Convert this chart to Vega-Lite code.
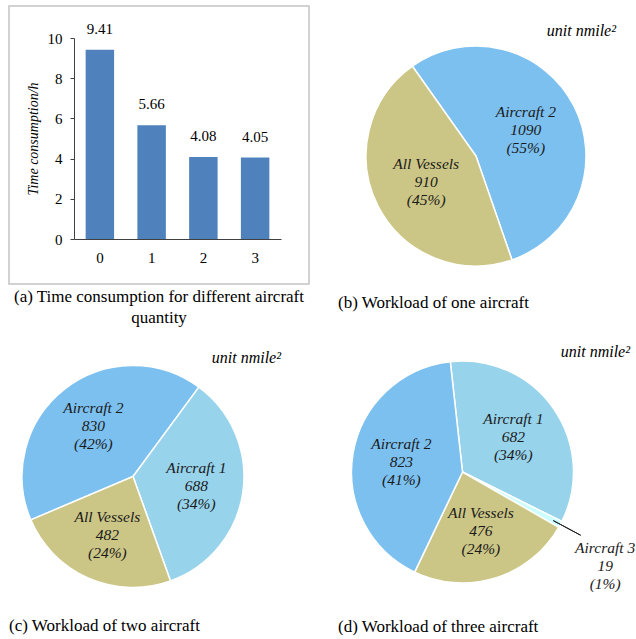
{
  "$schema": "https://vega.github.io/schema/vega-lite/v6.json",
  "padding": {"left": 8, "top": 5, "right": 0, "bottom": 0},
  "background": "white",
  "config": {
    "view": {"stroke": "#c4c4c4", "strokeWidth": 1.5},
    "font": "Liberation Serif",
    "title": {"font": "Liberation Serif", "fontWeight": "normal", "color": "black"}
  },
  "resolve": {"scale": {"theta": "independent"}},
  "spacing": 6,
  "vconcat": [
    {
      "spacing": 28,
      "resolve": {"scale": {"theta": "independent"}},
      "hconcat": [
        {
          "width": 300,
          "height": 278,
          "title": {"text": ["(a) Time consumption for different aircraft", "quantity"], "orient": "bottom", "offset": 5, "fontSize": 17, "lineHeight": 21, "fontWeight": "normal", "color": "black"},
          "data": {"values": [
            {"aircraft": 0, "hours": 9.41},
            {"aircraft": 1, "hours": 5.66},
            {"aircraft": 2, "hours": 4.08},
            {"aircraft": 3, "hours": 4.05}
          ]},
          "encoding": {
            "x": {"field": "aircraft", "type": "ordinal",
              "scale": {"range": [65, 272], "paddingInner": 0.45, "paddingOuter": 0.225},
              "axis": {"orient": "bottom", "offset": -45, "title": null, "labelAngle": 0, "ticks": false, "labelPadding": 11, "labelFont": "Liberation Serif", "labelFontSize": 15, "labelColor": "black", "domainColor": "#404040", "grid": false}},
            "y": {"field": "hours", "type": "quantitative",
              "scale": {"domain": [0, 10], "range": [233, 32], "nice": false},
              "axis": {"offset": -65, "values": [0, 2, 4, 6, 8, 10], "grid": false, "tickSize": 4, "tickColor": "#404040", "domainColor": "#404040", "labelPadding": 8, "labelFont": "Liberation Serif", "labelFontSize": 15, "labelColor": "black", "title": "Time consumption/h", "titleFont": "Liberation Serif", "titleFontStyle": "italic", "titleFontWeight": "normal", "titleFontSize": 14, "titleColor": "black", "titlePadding": 7}}
          },
          "layer": [
            {"mark": {"type": "bar", "color": "#4F81BD"}},
            {"mark": {"type": "text", "baseline": "middle", "dy": -21, "font": "Liberation Serif", "fontSize": 15, "color": "black"},
             "encoding": {"text": {"field": "hours", "type": "quantitative", "format": ".2f"}}}
          ]
        },
        {
          "title": {"text": "(b) Workload of one aircraft", "orient": "bottom", "offset": 11, "fontSize": 17, "fontWeight": "normal", "color": "black"},
          "vconcat": [
            {
              "width": 300,
              "height": 278,
              "title": {"text": "unit nmile²", "orient": "top", "anchor": "end", "offset": -33, "dx": -22, "fontSize": 16, "fontStyle": "italic", "fontWeight": "normal", "color": "black"},
              "data": {"values": [
                {"name": "Aircraft 2", "value": 1090, "pct": 55, "order": 1},
                {"name": "All Vessels", "value": 910, "pct": 45, "order": 2}
              ]},
              "transform": [
                {"stack": "value", "groupby": [], "offset": "normalize", "sort": [{"field": "order"}], "as": ["v0", "v1"]},
                {"calculate": "(datum.v0 + datum.v1) / 2", "as": "mid"},
                {"calculate": "datum.name + '\\n' + datum.value + '\\n(' + datum.pct + '%)'", "as": "label"}
              ],
              "layer": [
                {"mark": {"type": "arc", "radius": 110, "stroke": "white", "strokeWidth": 1.5, "xOffset": -12, "yOffset": 11},
                 "encoding": {
                   "theta": {"field": "v0", "type": "quantitative", "scale": {"domain": [0, 1], "range": [-0.616, 5.667]}},
                   "theta2": {"field": "v1"},
                   "color": {"field": "name", "type": "nominal", "legend": null, "scale": {"domain": ["All Vessels", "Aircraft 1", "Aircraft 2", "Aircraft 3"], "range": ["#CCC686", "#98D3EC", "#7CC0F0", "#CCFFFF"]}}
                 }},
                {"mark": {"type": "text", "radius": 56, "xOffset": -12, "yOffset": 11, "dy": -18, "lineBreak": "\n", "lineHeight": 18, "baseline": "middle", "font": "Liberation Serif", "fontStyle": "italic", "fontSize": 15.5, "color": "#1a1a1a"},
                 "encoding": {
                   "theta": {"field": "mid", "type": "quantitative", "stack": null},
                   "text": {"field": "label", "type": "nominal"}
                 }}
              ]
            }
          ]
        }
      ]
    },
    {
      "spacing": 29,
      "resolve": {"scale": {"theta": "independent"}},
      "hconcat": [
        {
          "title": {"text": "(c) Workload of two aircraft", "orient": "bottom", "offset": 7.5, "fontSize": 17, "fontWeight": "normal", "color": "black"},
          "vconcat": [
            {
              "width": 300,
              "height": 277,
              "title": {"text": "unit nmile²", "orient": "top", "anchor": "end", "offset": -33, "dx": -28, "fontSize": 16, "fontStyle": "italic", "fontWeight": "normal", "color": "black"},
              "data": {"values": [
                {"name": "Aircraft 2", "value": 830, "pct": 42, "order": 1},
                {"name": "Aircraft 1", "value": 688, "pct": 34, "order": 2},
                {"name": "All Vessels", "value": 482, "pct": 24, "order": 3}
              ]},
              "transform": [
                {"stack": "value", "groupby": [], "offset": "normalize", "sort": [{"field": "order"}], "as": ["v0", "v1"]},
                {"calculate": "(datum.v0 + datum.v1) / 2", "as": "mid"},
                {"calculate": "datum.name + '\\n' + datum.value + '\\n(' + datum.pct + '%)'", "as": "label"}
              ],
              "layer": [
                {"mark": {"type": "arc", "radius": 111, "stroke": "white", "strokeWidth": 1.5, "xOffset": -26, "yOffset": 5},
                 "encoding": {
                   "theta": {"field": "v0", "type": "quantitative", "scale": {"domain": [0, 1], "range": [-1.972, 4.311]}},
                   "theta2": {"field": "v1"},
                   "color": {"field": "name", "type": "nominal", "legend": null, "scale": {"domain": ["All Vessels", "Aircraft 1", "Aircraft 2", "Aircraft 3"], "range": ["#CCC686", "#98D3EC", "#7CC0F0", "#CCFFFF"]}}
                 }},
                {"mark": {"type": "text", "radius": 64, "xOffset": -26, "yOffset": 5, "dy": -18, "lineBreak": "\n", "lineHeight": 18, "baseline": "middle", "font": "Liberation Serif", "fontStyle": "italic", "fontSize": 15.5, "color": "#1a1a1a"},
                 "encoding": {
                   "theta": {"field": "mid", "type": "quantitative", "stack": null},
                   "text": {"field": "label", "type": "nominal"}
                 }}
              ]
            }
          ]
        },
        {
          "title": {"text": "(d) Workload of three aircraft", "orient": "bottom", "offset": 7.5, "fontSize": 17, "fontWeight": "normal", "color": "black"},
          "vconcat": [
            {
              "width": 299,
              "height": 278,
              "title": {"text": "unit nmile²", "orient": "top", "anchor": "end", "offset": -27, "dx": -7, "fontSize": 16, "fontStyle": "italic", "fontWeight": "normal", "color": "black"},
              "data": {"values": [
                {"name": "Aircraft 1", "value": 682, "pct": 34, "order": 1},
                {"name": "Aircraft 3", "value": 19, "pct": 1, "order": 2},
                {"name": "All Vessels", "value": 476, "pct": 24, "order": 3},
                {"name": "Aircraft 2", "value": 823, "pct": 41, "order": 4}
              ]},
              "transform": [
                {"stack": "value", "groupby": [], "offset": "normalize", "sort": [{"field": "order"}], "as": ["v0", "v1"]},
                {"calculate": "(datum.v0 + datum.v1) / 2", "as": "mid"},
                {"calculate": "datum.name + '\\n' + datum.value + '\\n(' + datum.pct + '%)'", "as": "label"}
              ],
              "layer": [
                {"mark": {"type": "arc", "radius": 111, "stroke": "white", "strokeWidth": 1.5, "xOffset": -25, "yOffset": 0},
                 "encoding": {
                   "theta": {"field": "v0", "type": "quantitative", "scale": {"domain": [0, 1], "range": [-0.110, 6.173]}},
                   "theta2": {"field": "v1"},
                   "color": {"field": "name", "type": "nominal", "legend": null, "scale": {"domain": ["All Vessels", "Aircraft 1", "Aircraft 2", "Aircraft 3"], "range": ["#CCC686", "#98D3EC", "#7CC0F0", "#CCFFFF"]}}
                 }},
                {"transform": [{"filter": "datum.name !== 'Aircraft 3'"}],
                 "mark": {"type": "text", "radius": 62, "xOffset": -25, "yOffset": 0, "dy": -18, "lineBreak": "\n", "lineHeight": 18, "baseline": "middle", "font": "Liberation Serif", "fontStyle": "italic", "fontSize": 15.5, "color": "#1a1a1a"},
                 "encoding": {
                   "theta": {"field": "mid", "type": "quantitative", "stack": null},
                   "text": {"field": "label", "type": "nominal"}
                 }},
                {"transform": [{"filter": "datum.name === 'Aircraft 3'"}],
                 "mark": {"type": "text", "radius": 172, "xOffset": -25, "yOffset": 0, "dx": -9, "dy": -5, "lineBreak": "\n", "lineHeight": 18, "baseline": "middle", "font": "Liberation Serif", "fontStyle": "italic", "fontSize": 15.5, "color": "#1a1a1a"},
                 "encoding": {
                   "theta": {"field": "mid", "type": "quantitative", "stack": null},
                   "text": {"field": "label", "type": "nominal"}
                 }},
                {"transform": [{"filter": "datum.name === 'Aircraft 3'"}],
                 "mark": {"type": "arc", "radius": 134, "radius2": 103, "filled": false, "stroke": "#222222", "strokeWidth": 1, "xOffset": -25, "yOffset": 0},
                 "encoding": {
                   "theta": {"field": "mid", "type": "quantitative", "stack": null},
                   "theta2": {"field": "mid"}
                 }}
              ]
            }
          ]
        }
      ]
    }
  ]
}
